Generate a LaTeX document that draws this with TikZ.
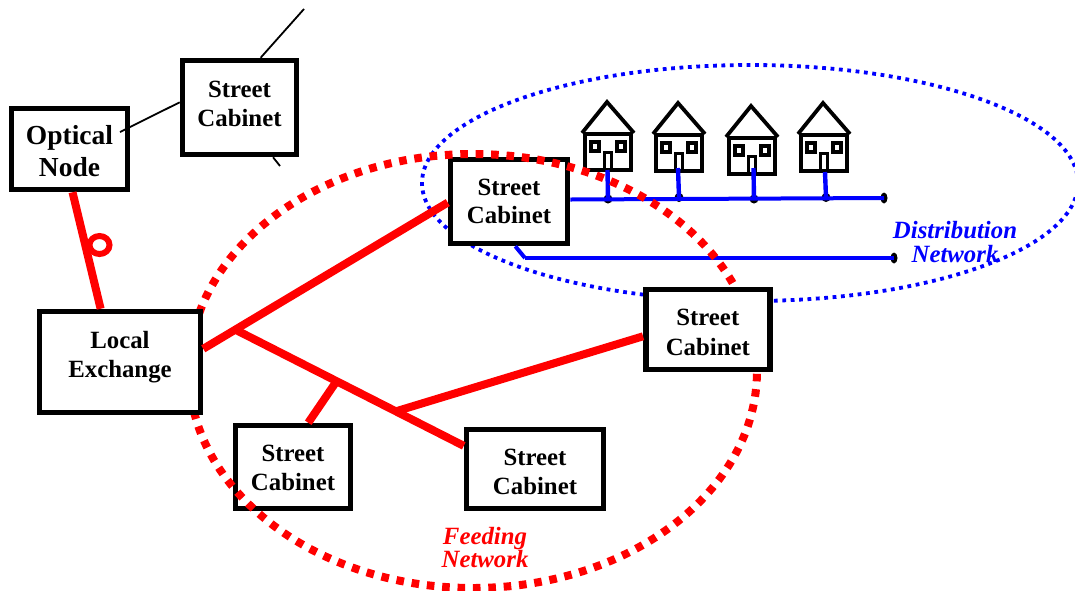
\documentclass[tikz,border=0pt]{standalone}
\usepackage{fontspec}
\setmainfont{Liberation Serif}
\usetikzlibrary{shapes.geometric}
\definecolor{netred}{RGB}{255,0,0}
\definecolor{netblue}{RGB}{0,0,255}
% two centred lines, baselines given relative to the node centre
\newcommand\twolines[4]{\makebox[0pt]{\raisebox{#1pt}[0pt][0pt]{#3}}\makebox[0pt]{\raisebox{#2pt}[0pt][0pt]{#4}}}
\tikzset{
  boxnode/.style={draw=black,fill=white,line width=5.5pt,rectangle,inner sep=0pt,
    font=\fontsize{24.8}{28}\selectfont\bfseries},
  redline/.style={draw=netred,line width=8pt},
  blueline/.style={draw=netblue,line width=4pt},
  thinline/.style={draw=black,line width=1.8pt},
  reddots/.style={draw=netred,line width=8pt,dash pattern=on 7.6pt off 7.8pt},
  bluedots/.style={draw=netblue,line width=3.8pt,dash pattern=on 3.8pt off 4.6pt},
  tap/.style={fill=black,draw=none,circle,minimum size=9pt,inner sep=0pt},
  endcap/.style={fill=black,draw=none,ellipse,minimum width=7pt,minimum height=11pt,inner sep=0pt},
  netlabel/.style={inner sep=0pt,font=\fontsize{24.8}{28}\selectfont\bfseries\itshape},
  pics/homestead/.style={code={
    \draw[black,line width=3.8pt,fill=white] (1.8,1.8) rectangle (48.2,38.2);
    \draw[black,line width=3.8pt,miter limit=2] (-1,1) -- (24,-30) -- (51,1);
    \draw[black,line width=3.6pt] (8,10) rectangle (16,19);
    \draw[black,line width=3.6pt] (34,10) rectangle (42,19);
    \draw[black,line width=3.6pt] (21.5,39) -- (21.5,20.5) -- (28.5,20.5) -- (28.5,39);
  }}
}
\begin{document}
\begin{tikzpicture}[x=1pt,y=-1pt]
\useasboundingbox (0,0) rectangle (1075,590);
% distribution ellipse
\node[bluedots,ellipse,minimum width=656pt,minimum height=236pt,inner sep=0pt] (distarea) at (750,183) {};
% houses
\pic at (583,132) {homestead};
\pic at (654,133) {homestead};
\pic at (727,136) {homestead};
\pic at (799,133) {homestead};
% cabinets under the red ellipse
\node[boxnode,minimum width=117pt,minimum height=84pt] (cabA) at (509,201.5) {\twolines{6.5}{-22}{Street}{Cabinet}};
\node[boxnode,minimum width=115pt,minimum height=83pt] (cabC) at (293,467) {\twolines{6}{-23}{Street}{Cabinet}};
% distribution lines
\node[endcap] (endA) at (884,198) {};
\node[endcap] (endB) at (894,258) {};
\coordinate (bendB) at (525,258);
\node[tap] (t1) at (608,199) {};
\node[tap] (t2) at (679,197.5) {};
\node[tap] (t3) at (754,199) {};
\node[tap] (t4) at (826,197.5) {};
\coordinate (h1) at (607.5,170);
\coordinate (h2) at (678,168);
\coordinate (h3) at (753.5,168);
\coordinate (h4) at (825,172);
\draw[blueline] (cabA.east) ++(0,-2) -- (endA.center);
\draw[blueline] (bendB) -- (endB.center);
\draw[blueline] (cabA.-82) -- (bendB);
\draw[blueline,line width=4.4pt] (h1) -- (t1.center);
\draw[blueline,line width=4.4pt] (h2) -- (t2.center);
\draw[blueline,line width=4.4pt] (h3) -- (t3.center);
\draw[blueline,line width=4.4pt] (h4) -- (t4.center);
% feeding ellipse
\node[reddots,ellipse,minimum width=568pt,minimum height=434pt,inner sep=0pt] (feedarea) at (473,371) {};
% remaining boxes
\node[boxnode,minimum width=116pt,minimum height=81pt,font=\fontsize{27.5}{31}\selectfont\bfseries] (optical) at (69.5,149) {\twolines{5}{-27}{Optical}{Node}};
\node[boxnode,minimum width=114pt,minimum height=94pt] (cabTop) at (239.5,107.5) {\twolines{10.2}{-18.5}{Street}{Cabinet}};
\node[boxnode,minimum width=161pt,minimum height=101pt] (exchange) at (120,362) {\twolines{13.7}{-15.3}{Local}{Exchange}};
\node[boxnode,minimum width=124pt,minimum height=80pt] (cabB) at (707.8,329.5) {\twolines{3.8}{-25.5}{Street}{Cabinet}};
\node[boxnode,minimum width=137pt,minimum height=79pt] (cabD) at (535,469) {\twolines{4}{-25}{Street}{Cabinet}};
% thin links
\coordinate (optIn) at (120,132);
\coordinate (stubUp) at (304,9);
\coordinate (stubDown) at (280,166);
\draw[thinline] (optIn) -- (cabTop.175);
\draw[thinline] (cabTop.67.5) -- (stubUp);
\draw[thinline] (cabTop.-56) -- (stubDown);
% red links
\draw[redline] (optical.-86) -- (exchange.110);
\draw[netred,line width=6pt] (99.5,245) ellipse [x radius=10, y radius=9];
\coordinate (j1) at (236,330);
\coordinate (j2) at (336,382);
\coordinate (j3) at (397,411);
\draw[redline] (exchange.9) -- (cabA.181.5);
\draw[redline] (j1) -- (cabD.162.5);
\draw[redline] (j2) -- (cabC.71);
\draw[redline] (j3) -- (cabB.186);
% labels
\node[netlabel,text=netblue] (distlabel) at (955,250) {\twolines{12}{-12}{Distribution}{Network}};
\node[netlabel,text=netred] (feedlabel) at (485,556) {\twolines{11.5}{-11.5}{Feeding}{Network}};
\end{tikzpicture}
\end{document}
